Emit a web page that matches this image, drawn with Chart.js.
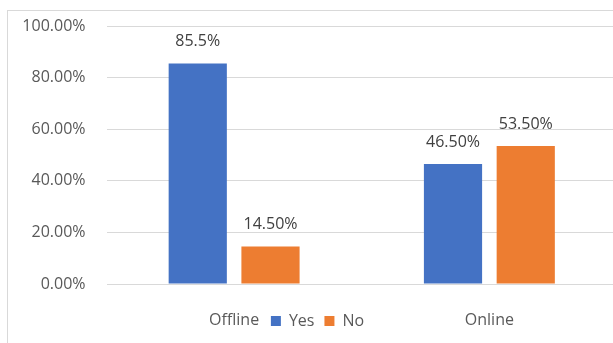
<!DOCTYPE html>
<html>
<head>
<meta charset="utf-8">
<script src="https://cdn.jsdelivr.net/npm/chart.js@4.4.0/dist/chart.umd.min.js"></script>
<style>
  html, body { margin: 0; padding: 0; background: #fff; overflow: hidden; }
  #frame { position: absolute; left: 7px; top: 10px; width: 700px; height: 400px; border: 1px solid #d9d9d9; }
  #wrap { position: absolute; left: 0; top: 0; width: 617px; height: 343px; }
</style>
</head>
<body>
<div id="frame"></div>
<div id="wrap"><canvas id="barChart" width="617" height="343"></canvas></div>
<script>
// data //
const categories = ["Offline", "Online"];
const yesValues = [85.5, 46.5];
const noValues = [14.5, 53.5];
const yesLabels = ["85.5%", "46.50%"];
const noLabels = ["14.50%", "53.50%"];
const yTicks = [0, 20, 40, 60, 80, 100];

const fontFamily = "'Open Sans', 'Noto Sans', sans-serif";

// value labels above bars
const barLabels = {
  id: 'barLabels',
  afterDatasetsDraw(chart) {
    const ctx = chart.ctx;
    ctx.save();
    ctx.font = "16px " + fontFamily;
    ctx.fillStyle = "#404040";
    ctx.textAlign = "center";
    ctx.textBaseline = "middle";
    chart.data.datasets.forEach((ds, i) => {
      const meta = chart.getDatasetMeta(i);
      meta.data.forEach((bar, j) => {
        ctx.fillText(ds.valueLabels[j], bar.x, bar.y - 22);
      });
    });
    ctx.restore();
  }
};

// legend sits on the same row as the category labels (like the excel chart)
const legendOnAxisRow = {
  id: 'legendOnAxisRow',
  beforeLayout(chart) {
    const lg = chart.legend;
    if (lg && !lg._rowPatched) {
      const origFit = lg.fit;
      lg.fit = function() {
        origFit.call(this);
        this._fullHeight = this.height;
        this.height = 0;
      };
      lg._rowPatched = true;
    }
  },
  beforeDraw(chart) {
    const lg = chart.legend;
    if (!lg) return;
    lg.top = 303;
    lg.bottom = 303 + (lg._fullHeight || 36);
  }
};

var ctx = document.getElementById("barChart").getContext('2d');

var myChart = new Chart(ctx, {
  type: 'bar',
  data: {
    labels: categories,
    datasets: [{
      label: "Yes",
      backgroundColor: "#4472C4",
      data: yesValues,
      valueLabels: yesLabels,
      categoryPercentage: 0.57,
      barPercentage: 0.8
    }, {
      label: "No",
      backgroundColor: "#ED7D31",
      data: noValues,
      valueLabels: noLabels,
      categoryPercentage: 0.57,
      barPercentage: 0.8
    }]
  },
  options: {
    responsive: false,
    animation: false,
    layout: {
      padding: { left: 18, right: 0, top: 26, bottom: 12 }
    },
    scales: {
      x: {
        grid: { display: false, drawTicks: false },
        border: { display: false },
        ticks: {
          padding: 27,
          color: "#595959",
          font: { family: fontFamily, size: 16 }
        },
        afterFit(scale) { scale.height = 47; }
      },
      y: {
        min: 0,
        max: 100,
        afterBuildTicks(scale) {
          scale.ticks = yTicks.map(v => ({ value: v }));
        },
        grid: { color: "#d9d9d9", drawTicks: false, lineWidth: 1 },
        border: { display: false },
        ticks: {
          padding: 21,
          color: "#595959",
          font: { family: fontFamily, size: 16 },
          callback: function(v) { return v.toFixed(2) + "%"; }
        },
        afterFit(scale) {
          scale.width = 88.5;
          scale.paddingTop = 0;
          scale.paddingBottom = 0;
        }
      }
    },
    plugins: {
      legend: {
        display: true,
        position: 'bottom',
        labels: {
          boxWidth: 10,
          boxHeight: 10,
          padding: 10,
          color: "#595959",
          font: { family: fontFamily, size: 16 }
        }
      },
      tooltip: { enabled: false }
    }
  },
  plugins: [barLabels, legendOnAxisRow]
});
</script>
</body>
</html>
